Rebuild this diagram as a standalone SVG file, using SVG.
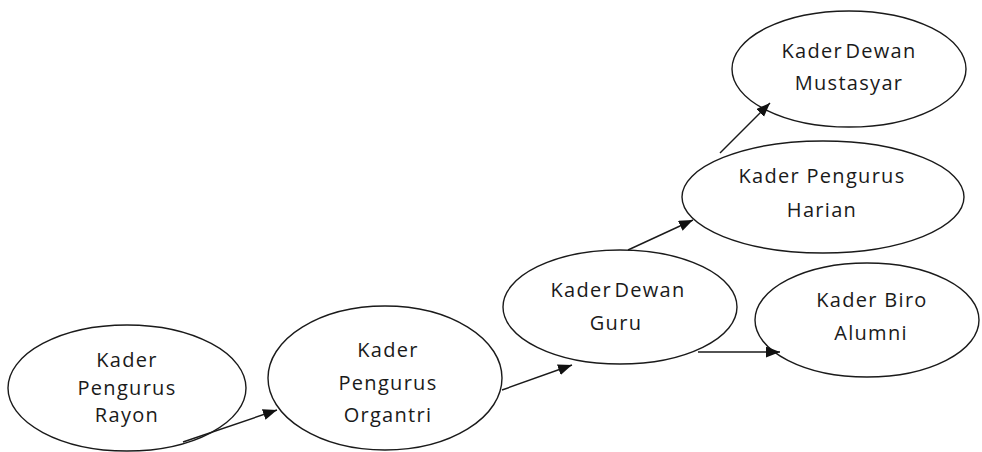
<svg xmlns="http://www.w3.org/2000/svg" width="982" height="452" viewBox="0 0 982 452">
<style>
.node ellipse{fill:#fff;stroke:#1a1a1a;stroke-width:1.4}
.node text{font-family:"Open Sans","DejaVu Sans",sans-serif;font-size:20px;letter-spacing:1.3px;fill:#1a1a1a;text-anchor:middle}
.conn line{stroke:#1a1a1a;stroke-width:1.4;marker-end:url(#ah)}
</style>
<defs>
<marker id="ah" markerUnits="userSpaceOnUse" markerWidth="15" markerHeight="12" refX="14" refY="5.5" orient="auto">
<path d="M0,0 L14,5.5 L0,11 z" fill="#111"/>
</marker>
</defs>
<rect width="982" height="452" fill="#fff"/>
<g id="rayon" class="node"><ellipse cx="127" cy="388" rx="119" ry="63"/><text x="127" y="367">Kader</text><text x="127" y="395">Pengurus</text><text x="127" y="422">Rayon</text></g>
<g id="organtri" class="node"><ellipse cx="385" cy="378" rx="117" ry="72"/><text x="388" y="357">Kader</text><text x="388" y="390">Pengurus</text><text x="388" y="422">Organtri</text></g>
<g id="dewan-guru" class="node"><ellipse cx="620" cy="307" rx="117" ry="57"/><text x="618" y="297" word-spacing="-4">Kader Dewan</text><text x="616" y="330">Guru</text></g>
<g id="pengurus-harian" class="node"><ellipse cx="823" cy="197" rx="141" ry="56"/><text x="822" y="183">Kader Pengurus</text><text x="822" y="217">Harian</text></g>
<g id="biro-alumni" class="node"><ellipse cx="867" cy="320" rx="112" ry="57"/><text x="872" y="307">Kader Biro</text><text x="871" y="340">Alumni</text></g>
<g id="dewan-mustasyar" class="node"><ellipse cx="849" cy="69" rx="117" ry="58"/><text x="849" y="58" word-spacing="-4">Kader Dewan</text><text x="849" y="90">Mustasyar</text></g>
<g id="connectors" class="conn">
<line x1="183" y1="442" x2="277" y2="410"/>
<line x1="502" y1="390" x2="572" y2="365"/>
<line x1="628" y1="250" x2="693" y2="220"/>
<line x1="698" y1="352" x2="780" y2="352"/>
<line x1="720" y1="153" x2="770" y2="103"/>
</g>
</svg>
